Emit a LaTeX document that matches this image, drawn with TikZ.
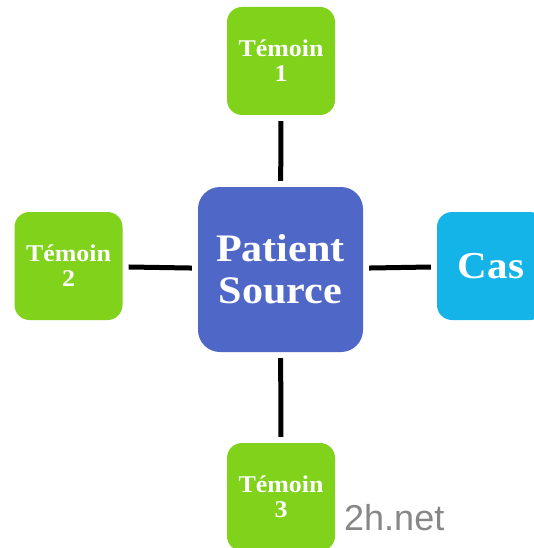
\documentclass[tikz,border=0pt]{standalone}
\usepackage{fontspec}
\setmainfont{Liberation Serif}
\newfontfamily\boxfont[FakeStretch=1.08]{Liberation Serif}
\newfontfamily\wmfont{Liberation Sans}
\usetikzlibrary{positioning}
\definecolor{srcblue}{RGB}{79,103,198}
\definecolor{witgreen}{RGB}{128,210,26}
\definecolor{casblue}{RGB}{20,180,233}
\tikzset{box/.style={rounded corners=15pt,minimum size=108pt,inner sep=0pt,align=center,
           text=white,font=\boxfont\bfseries\fontsize{24}{25}\selectfont},
         link/.style={line width=5pt,shorten <=6pt,shorten >=6pt}}

\begin{document}
\begin{tikzpicture}[x=1pt,y=-1pt]
  \useasboundingbox (0,0) rectangle (534,548);
  \node[box,fill=srcblue,minimum size=165pt,rounded corners=22pt,
    font=\boxfont\bfseries\fontsize{39}{42}\selectfont] (src) at (280.5,269.5) {Patient\\Source};
  \node[box,fill=witgreen] (t1) at (281,61) {Témoin\\1};
  \node[box,fill=witgreen] (t2) at (68.5,266) {Témoin\\2};
  \node[box,fill=witgreen] (t3) at (281,497) {Témoin\\3};
  \node[box,fill=casblue,font=\boxfont\bfseries\fontsize{38}{42}\selectfont] (cas) at (491,266) {Cas};
  \draw[link] (src) -- (t1);
  \draw[link] (src) -- (t2);
  \draw[link] (src) -- (t3);
  \draw[link] (src) -- (cas);
  \node[anchor=west,inner sep=0pt,text=black!47,font=\wmfont\fontsize{36}{36}\selectfont] (wm) at (344,518) {2h.net};
\end{tikzpicture}
\end{document}
